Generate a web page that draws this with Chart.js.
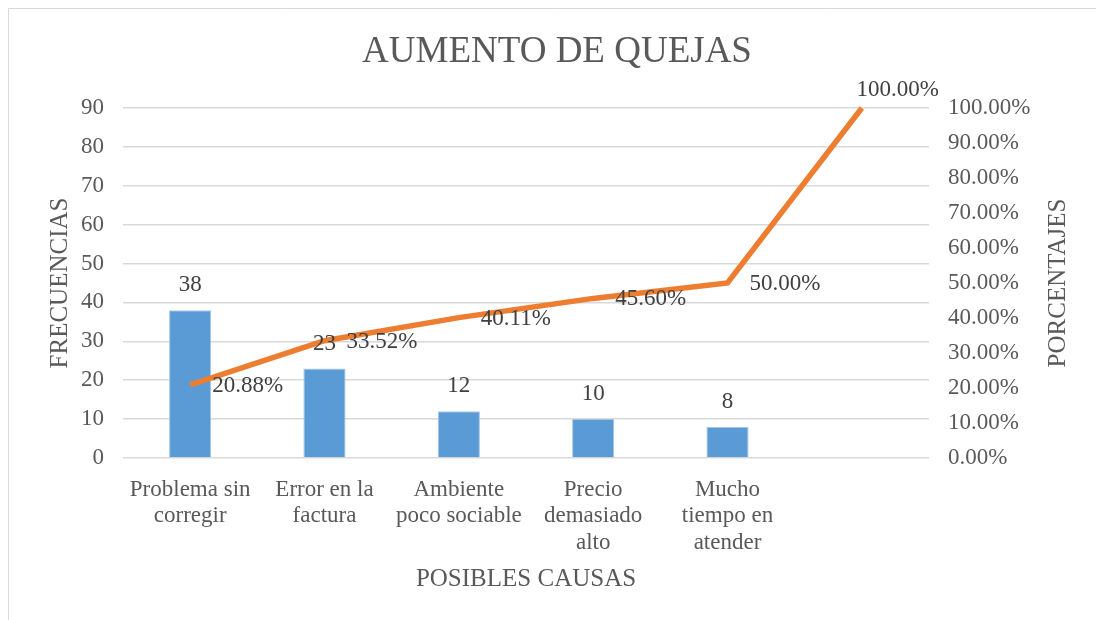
<!DOCTYPE html>
<html>
<head>
<meta charset="utf-8">
<title>Aumento de quejas</title>
<script src="https://cdn.jsdelivr.net/npm/chart.js@4/dist/chart.umd.min.js"></script>
<style>
  html, body { margin: 0; padding: 0; background: #fff; overflow: hidden; }
  #wrap { width: 1096px; height: 620px; }
</style>
</head>
<body>
<div id="wrap"><canvas id="pareto" width="1096" height="620"></canvas></div>
<script>
// Datos del diagrama de Pareto
const causas = [
  ['Problema sin', 'corregir'],
  ['Error en la', 'factura'],
  ['Ambiente', 'poco sociable'],
  ['Precio', 'demasiado', 'alto'],
  ['Mucho', 'tiempo en', 'atender'],
  ''
];
const frecuencias = [38, 23, 12, 10, 8, null];
const porcentajes = [20.88, 33.52, 40.11, 45.60, 50.00, 100.00];
const ticksFrecuencia = [0, 10, 20, 30, 40, 50, 60, 70, 80, 90];

const FONT = '"Liberation Serif", "Times New Roman", serif';
const GRIS = '#595959';

// marco exterior del grafico (solo bordes superior e izquierdo visibles)
const marco = {
  id: 'marco',
  beforeDraw(chart) {
    const ctx = chart.ctx;
    ctx.save();
    ctx.fillStyle = '#fff';
    ctx.fillRect(0, 0, chart.width, chart.height);
    ctx.strokeStyle = '#d9d9d9';
    ctx.lineWidth = 1;
    ctx.beginPath();
    ctx.moveTo(8.5, chart.height);
    ctx.lineTo(8.5, 8.5);
    ctx.lineTo(chart.width, 8.5);
    ctx.stroke();
    ctx.restore();
  }
};

// etiquetas de datos (barras arriba, linea a la derecha)
const etiquetas = {
  id: 'etiquetas',
  afterDatasetsDraw(chart) {
    const ctx = chart.ctx;
    const area = chart.chartArea;
    ctx.save();
    ctx.font = '23px ' + FONT;
    ctx.fillStyle = '#404040';
    ctx.textBaseline = 'middle';

    const barras = chart.getDatasetMeta(1);
    barras.data.forEach((bar, i) => {
      const v = frecuencias[i];
      if (v == null) return;
      ctx.textAlign = 'center';
      ctx.fillText(String(v), bar.x, bar.y - 25);
    });

    const linea = chart.getDatasetMeta(0);
    linea.data.forEach((pt, i) => {
      const txt = porcentajes[i].toFixed(2) + '%';
      const w = ctx.measureText(txt).width;
      let x = pt.x + 22;
      let y = pt.y + 1;
      if (x + w > area.right + 12) {
        x = area.right + 10 - w;
        y = pt.y - 18;
      }
      ctx.textAlign = 'left';
      ctx.fillText(txt, x, y);
    });
    ctx.restore();
  }
};

// titulo del eje secundario, leido de abajo hacia arriba
const tituloDerecho = {
  id: 'tituloDerecho',
  afterDraw(chart) {
    const ctx = chart.ctx;
    const area = chart.chartArea;
    ctx.save();
    ctx.translate(1058, (area.top + area.bottom) / 2);
    ctx.rotate(-Math.PI / 2);
    ctx.font = '25px ' + FONT;
    ctx.fillStyle = GRIS;
    ctx.textAlign = 'center';
    ctx.textBaseline = 'middle';
    ctx.fillText('PORCENTAJES', 0, 0);
    ctx.restore();
  }
};

new Chart(document.getElementById('pareto'), {
  data: {
    labels: causas,
    datasets: [
      {
        type: 'line',
        label: 'Porcentaje acumulado',
        data: porcentajes,
        yAxisID: 'y1',
        borderColor: '#ed7d31',
        borderWidth: 5.5,
        pointRadius: 0,
        pointHoverRadius: 0,
        tension: 0,
        clip: false,
        order: 0
      },
      {
        type: 'bar',
        label: 'Frecuencia',
        data: frecuencias,
        yAxisID: 'y',
        backgroundColor: '#5b9bd5',
        borderColor: '#a6c6e8',
        borderWidth: 1,
        categoryPercentage: 1,
        barPercentage: 0.314,
        order: 1
      }
    ]
  },
  options: {
    responsive: false,
    animation: false,
    layout: { padding: { left: 18, top: 0, right: 0, bottom: 0 } },
    plugins: {
      legend: { display: false },
      tooltip: { enabled: false },
      title: {
        display: true,
        text: 'AUMENTO DE QUEJAS',
        color: GRIS,
        font: { family: FONT, size: 37, weight: 'normal', lineHeight: 1.2 },
        padding: { top: 30, bottom: 33.6 }
      }
    },
    scales: {
      x: {
        grid: { display: false },
        border: { display: false },
        ticks: {
          color: GRIS,
          padding: 10,
          maxRotation: 0,
          autoSkip: false,
          font: { family: FONT, size: 23, lineHeight: 1.17 }
        },
        title: {
          display: true,
          text: 'POSIBLES CAUSAS',
          color: GRIS,
          font: { family: FONT, size: 25, lineHeight: 1.2 },
          padding: { top: 0, bottom: 26 }
        },
        afterFit: s => { s.height = 162; }
      },
      y: {
        position: 'left',
        min: 0,
        max: 90,
        afterBuildTicks: s => { s.ticks = ticksFrecuencia.map(v => ({ value: v })); },
        grid: { color: '#d9d9d9', lineWidth: 1.5, drawTicks: false },
        border: { display: false },
        ticks: {
          color: GRIS,
          padding: 19,
          font: { family: FONT, size: 23 }
        },
        title: {
          display: true,
          text: 'FRECUENCIAS',
          color: GRIS,
          font: { family: FONT, size: 25, lineHeight: 1.2 },
          padding: { top: 27, bottom: 0 }
        },
        afterFit: s => { s.width = 105; }
      },
      y1: {
        position: 'right',
        min: 0,
        max: 100,
        grid: { display: false, drawTicks: false },
        border: { display: false },
        ticks: {
          stepSize: 10,
          color: GRIS,
          padding: 19,
          font: { family: FONT, size: 23 },
          callback: v => v.toFixed(2) + '%'
        },
        afterFit: s => { s.width = 167; }
      }
    }
  },
  plugins: [marco, etiquetas, tituloDerecho]
});
</script>
</body>
</html>
